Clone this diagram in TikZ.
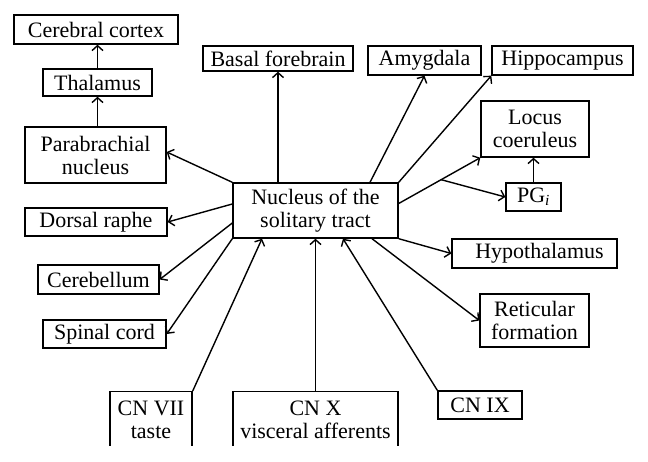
\documentclass[tikz,border=0pt]{standalone}
\usepackage{fontspec}
\setmainfont{Liberation Serif}
\usetikzlibrary{arrows.meta}
\tikzset{
    box/.style={draw, line width=1.4pt, inner xsep=2pt, inner ysep=1pt, align=center,
        font=\fontsize{22}{23}\selectfont},
    arr/.style={line width=1.4pt, -{Straight Barb[length=5pt, width=11pt, line width=1.4pt]}}
}
\begin{document}
\begin{tikzpicture}[x=1pt, y=-1pt]
                    \useasboundingbox (0, 0) rectangle (648, 462);
                    \clip (0, 0) rectangle (648, 445.5);
                    \node[box, minimum width=164, minimum height=29] (cortex) at (96, 29.5) {Cerebral cortex};
                    \node[box, minimum width=109, minimum height=27] (thal) at (97.5, 82.5) {Thalamus};
                    \node[box, minimum width=141, minimum height=56] (para) at (95.5, 155) {Parabrachial\\nucleus};
                    \node[box, minimum width=150, minimum height=25] (basal) at (278, 58.5) {Basal forebrain};
                    \node[box, minimum width=113, minimum height=29] (amyg) at (424.5, 60.5) {Amygdala};
                    \node[box, minimum width=141, minimum height=29] (hippo) at (562.5, 60.5) {Hippocampus};
                    \node[box, minimum width=108, minimum height=56] (locus) at (535, 129) {Locus\\coeruleus};
                    \node[box, minimum width=55, minimum height=28] (pgi) at (533.5, 197) {PG\textsubscript{\textit{i}}};
                    \node[box, minimum width=165, minimum height=55] (nts) at (315.5, 210.5) {Nucleus of the\\solitary tract};
                    \node[box, minimum width=142, minimum height=28] (raphe) at (96, 222) {Dorsal raphe};
                    \node[box, minimum width=121, minimum height=29] (cereb) at (98.5, 279.5) {Cerebellum};
                    \node[box, minimum width=123, minimum height=28] (spinal) at (104.5, 334) {Spinal cord};
                    \node[box, minimum width=165, minimum height=29] (hypo) at (534.5, 253.5) {\hspace{10pt}Hypothalamus};
                    \node[box, minimum width=109, minimum height=53] (retic) at (534.5, 320.5) {Reticular\\formation};
                    \node[box, minimum width=82, minimum height=56, anchor=north] (cnvii) at (151, 391) {CN VII\\taste};
                    \node[box, minimum width=165, minimum height=56, anchor=north] (cnx) at (315.5, 391) {CN X\\visceral afferents};
                    \node[box, minimum width=84, minimum height=28] (cnix) at (480, 405) {CN IX};
                    \draw[arr] (thal.north) -- (thal.north |- cortex.south);
                    \draw[arr] (thal.south |- para.north) -- (thal.south);
                    \draw[arr] (nts.north west) -- ([yshift=3pt]para.east);
                    \draw[arr] (nts.north -| basal) -- (basal.south);
                    \draw[arr] ([xshift=54.5pt]nts.north) -- (amyg.south);
                    \draw[arr] (nts.north east) -- (hippo.south west);
                    \draw[arr] ([yshift=7pt]nts.east) -- coordinate[pos=0.52] (split) (locus.south west);
                    \draw[arr] (split) -- (pgi.west);
                    \draw[arr] (pgi.north) -- (pgi.north |- locus.south);
                    \draw[arr] ([yshift=6.5pt]nts.west) -- (raphe.east);
                    \draw[arr] ([yshift=-12.5pt]nts.west) -- (cereb.east);
                    \draw[arr] (nts.south west) -- (spinal.east);
                    \draw[arr] (nts.south east) -- (hypo.west);
                    \draw[arr] ([xshift=56.5pt]nts.south) -- (retic.west);
                    \draw[arr] (cnvii.north east) -- ([xshift=-53.5pt]nts.south);
                    \draw[arr] (cnx.north) -- (nts.south);
                    \draw[arr] (cnix.north west) -- ([xshift=27.5pt]nts.south);
                \end{tikzpicture}
\end{document}
